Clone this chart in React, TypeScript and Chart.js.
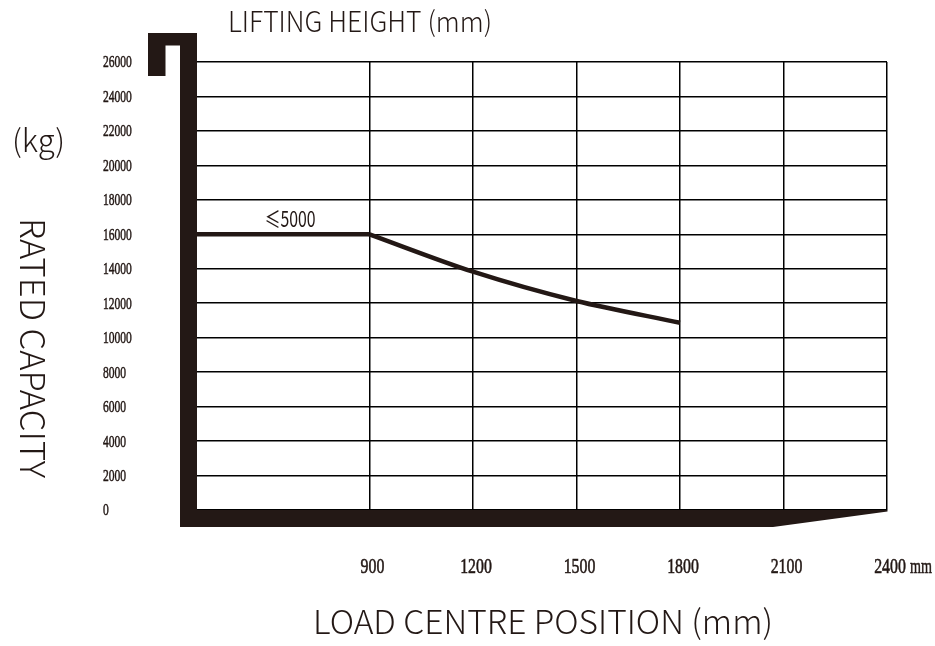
import { useEffect, useRef } from 'react';
import { Chart, registerables } from 'chart.js';

Chart.register(...registerables);

// ---- data ----
const loadCentres = [400, 900, 1200, 1500, 1800];
const ratedCapacity = [16000, 16000, 13830, 12130, 10870];
const xTickValues = [900, 1200, 1500, 1800, 2100, 2400];
const yTickValues = [0, 2000, 4000, 6000, 8000, 10000, 12000, 14000, 16000, 18000, 20000, 22000, 24000, 26000];
const xUnit = 'mm';
const curveLabel = '≤5000';
const curveLabelAt = [670, 16000];
const topTitle = 'LIFTING HEIGHT (mm)';
const bottomTitle = 'LOAD CENTRE POSITION (mm)';
const yTitle = 'RATED CAPACITY';
const yUnit = '(kg)';

const INK = '#231815';
const SANS = '"Noto Sans CJK SC", "Noto Sans", sans-serif';
const SERIF = '"Liberation Serif", "DejaVu Serif", serif';

function drawFit(ctx: CanvasRenderingContext2D, text: string, x: number, y: number, font: string, width: number, align: CanvasTextAlign, stroke = 0) {
  ctx.save();
  ctx.font = font;
  const w = ctx.measureText(text).width;
  const s = width / w;
  ctx.translate(x, y);
  ctx.scale(s, 1);
  ctx.textAlign = align;
  ctx.textBaseline = 'alphabetic';
  ctx.fillText(text, 0, 0);
  if (stroke > 0) {
    ctx.lineWidth = stroke;
    ctx.strokeStyle = ctx.fillStyle;
    ctx.strokeText(text, 0, 0);
  }
  ctx.restore();
}

function drawScaled(ctx: CanvasRenderingContext2D, text: string, x: number, y: number, font: string, sx: number, align: CanvasTextAlign, baseline: CanvasTextBaseline, stroke = 0) {
  ctx.save();
  ctx.font = font;
  ctx.translate(x, y);
  ctx.scale(sx, 1);
  ctx.textAlign = align;
  ctx.textBaseline = baseline;
  ctx.fillText(text, 0, 0);
  if (stroke > 0) {
    ctx.lineWidth = stroke;
    ctx.strokeStyle = ctx.fillStyle;
    ctx.strokeText(text, 0, 0);
  }
  ctx.restore();
}

const decorPlugin = {
  id: 'decor',
  afterDraw(chart: any) {
    const ctx: CanvasRenderingContext2D = chart.ctx;
    const { left, right, bottom } = chart.chartArea;
    const xs = chart.scales.x;
    const ys = chart.scales.y;
    ctx.save();
    ctx.fillStyle = INK;

    // thick L frame with hook
    ctx.beginPath();
    ctx.moveTo(left - 49, 33);
    ctx.lineTo(left, 33);
    ctx.lineTo(left, bottom + 17);
    ctx.lineTo(left - 17, bottom + 17);
    ctx.lineTo(left - 17, 45.5);
    ctx.lineTo(left - 31.5, 45.5);
    ctx.lineTo(left - 31.5, 76);
    ctx.lineTo(left - 49, 76);
    ctx.closePath();
    ctx.fill();

    // bottom bar with taper
    ctx.beginPath();
    ctx.moveTo(left - 17, bottom);
    ctx.lineTo(right + 0.5, bottom);
    ctx.lineTo(right + 0.5, bottom + 1.5);
    ctx.lineTo(right - 114, bottom + 17);
    ctx.lineTo(left - 17, bottom + 17);
    ctx.closePath();
    ctx.fill();

    // y tick labels
    yTickValues.forEach((v) => {
      drawScaled(ctx, String(v), 103, ys.getPixelForValue(v) + 1, `17px ${SERIF}`, 0.68, 'left', 'middle', 0.5);
    });
    // x tick labels
    xTickValues.forEach((v) => {
      drawScaled(ctx, String(v), xs.getPixelForValue(v) + 3, bottom + 63, `22px ${SERIF}`, 0.72, 'center', 'alphabetic', 0.6);
    });
    drawFit(ctx, xUnit, xs.getPixelForValue(xTickValues[xTickValues.length - 1]) + 23, bottom + 63, `22px ${SERIF}`, 22, 'left', 0.5);

    // curve label
    drawFit(ctx, curveLabel, xs.getPixelForValue(curveLabelAt[0]), ys.getPixelForValue(curveLabelAt[1]) - 7, `400 22px ${SANS}`, 51, 'center');

    // titles
    drawFit(ctx, topTitle, 228, 32, `300 28px ${SANS}`, 264, 'left');
    drawFit(ctx, bottomTitle, 313, 634, `300 33px ${SANS}`, 460, 'left');
    drawFit(ctx, yUnit, 12, 152, `300 31px ${SANS}`, 53, 'left');

    ctx.save();
    ctx.translate(20, 218);
    ctx.rotate(Math.PI / 2);
    ctx.font = `300 34px ${SANS}`;
    const w = ctx.measureText(yTitle).width;
    ctx.scale(260 / w, 1);
    ctx.textAlign = 'left';
    ctx.textBaseline = 'alphabetic';
    ctx.fillText(yTitle, 0, 0);
    ctx.restore();

    ctx.restore();
  },
};

export default function App() {
  const ref = useRef<HTMLCanvasElement>(null);
  useEffect(() => {
    const flat = loadCentres.slice(0, 2).map((x, i) => ({ x, y: ratedCapacity[i] }));
    const curve = loadCentres.slice(1).map((x, i) => ({ x, y: ratedCapacity[i + 1] }));
    const grid = { color: '#000', lineWidth: 1.5, drawTicks: false };
    const chart = new Chart(ref.current!, {
      type: 'line',
      data: {
        datasets: [
          { data: flat, borderColor: INK, borderWidth: 4.5, pointRadius: 0, tension: 0, borderCapStyle: 'butt' },
          { data: curve, borderColor: INK, borderWidth: 4.5, pointRadius: 0, tension: 0.3, borderCapStyle: 'butt' },
        ],
      },
      options: {
        animation: false,
        responsive: false,
        devicePixelRatio: 1,
        layout: { padding: { left: 197, right: 48, top: 62, bottom: 136 } },
        plugins: { legend: { display: false }, tooltip: { enabled: false } },
        scales: {
          x: {
            type: 'linear',
            min: 400,
            max: 2400,
            afterBuildTicks: (s: any) => { s.ticks = xTickValues.map((v) => ({ value: v })); },
            afterFit: (s: any) => { s.height = 0; },
            ticks: { display: false },
            grid,
            border: { display: false },
          },
          y: {
            type: 'linear',
            min: 0,
            max: 26000,
            afterBuildTicks: (s: any) => { s.ticks = yTickValues.map((v) => ({ value: v })); },
            afterFit: (s: any) => { s.width = 0; },
            ticks: { display: false },
            grid,
            border: { display: false },
          },
        },
      } as any,
      plugins: [decorPlugin],
    });
    return () => chart.destroy();
  }, []);
  return (
    <div style={{ position: 'fixed', left: 0, top: 0, width: 935, height: 646, background: '#fff' }}>
      <canvas ref={ref} width={935} height={646} style={{ display: 'block', width: 935, height: 646 }} />
    </div>
  );
}
